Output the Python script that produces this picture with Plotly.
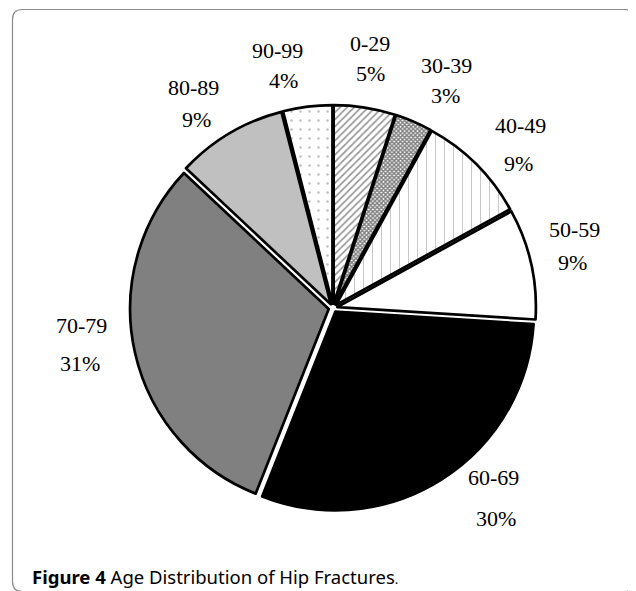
import plotly.graph_objects as go

age_groups = ["0-29", "30-39", "40-49", "50-59", "60-69", "70-79", "80-89", "90-99"]
percent_values = [5, 3, 9, 9, 30, 31, 9, 4]

fill_colors = ["white", "white", "white", "white", "black", "#808080", "#c0c0c0", "white"]
pattern_shapes = ["/", "x", "|", "", "", "", "", "."]
pattern_fg = ["#222222", "#000000", "#888888", "black", "black", "black", "black", "#888888"]
pattern_size = [5, 3, 9, 8, 8, 8, 8, 9]
pattern_solidity = [0.3, 0.7, 0.1, 0.3, 0.3, 0.3, 0.3, 0.07]

# label anchor positions (page pixels, centre of each text line)
name_pos = [(370, 43), (446, 66), (520, 125), (574, 229), (493, 477), (81, 325), (193, 88), (277, 51)]
pct_pos = [(370, 73), (445, 95), (518, 163), (572, 263), (496, 518), (80, 363), (196, 119), (283, 80)]

PAGE_OFF = 8  # browser body margin
W, H = 636 - PAGE_OFF, 591 - PAGE_OFF


def px(x):
    return (x - PAGE_OFF) / W


def py(y):
    return 1 - (y - PAGE_OFF) / H


fig = go.Figure(go.Pie(
    labels=age_groups,
    values=percent_values,
    sort=False,
    direction="clockwise",
    rotation=0,
    pull=0.022,
    marker=dict(
        colors=fill_colors,
        line=dict(color="black", width=2.7),
        pattern=dict(shape=pattern_shapes, fgcolor=pattern_fg, bgcolor=fill_colors,
                     size=pattern_size, solidity=pattern_solidity, fillmode="overlay"),
    ),
    textinfo="none",
    domain=dict(x=[px(130), px(536)], y=[py(512), py(104)]),
    showlegend=False,
    hoverinfo="skip",
))

label_font = dict(family="Liberation Serif", size=22, color="black")
for name, val, (nx, ny), (qx, qy) in zip(age_groups, percent_values, name_pos, pct_pos):
    fig.add_annotation(x=px(nx), y=py(ny), xref="paper", yref="paper", text=name,
                       showarrow=False, xanchor="center", yanchor="middle", font=label_font)
    fig.add_annotation(x=px(qx), y=py(qy), xref="paper", yref="paper", text=f"{val}%",
                       showarrow=False, xanchor="center", yanchor="middle", font=label_font)

# rounded frame
x0, x1 = px(12.5), px(635)
y0, y1 = py(591.5), py(9.5)
rx, ry = 10 / W, 10 / H
path = (f"M {x0+rx},{y1} L {x1-rx},{y1} Q {x1},{y1} {x1},{y1-ry} "
        f"L {x1},{y0+ry} Q {x1},{y0} {x1-rx},{y0} L {x0+rx},{y0} "
        f"Q {x0},{y0} {x0},{y0+ry} L {x0},{y1-ry} Q {x0},{y1} {x0+rx},{y1} Z")
fig.add_shape(type="path", path=path, xref="paper", yref="paper",
              line=dict(color="#8a8a8a", width=1.2))

fig.add_annotation(
    x=px(30), y=py(576), xref="paper", yref="paper",
    xanchor="left", yanchor="middle", showarrow=False,
    text="<b>Figure 4</b> Age Distribution of Hip Fractures<span style='font-size:13px'>.</span>",
    font=dict(family="Noto Sans", size=18.5, color="black"),
)

fig.update_layout(
    width=W, height=H,
    margin=dict(l=0, r=0, t=0, b=0),
    paper_bgcolor="white", plot_bgcolor="white",
)

fig.write_html("out.html")
